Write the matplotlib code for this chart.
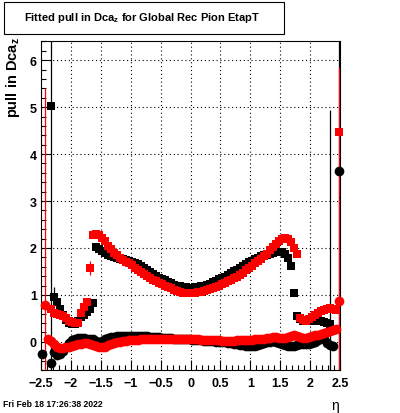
import numpy as np
import matplotlib.pyplot as plt
from matplotlib.patches import Rectangle
from matplotlib.ticker import MultipleLocator

plt.rcParams['font.family'] = ['Liberation Sans', 'DejaVu Sans']
plt.rcParams['mathtext.fontset'] = 'custom'
plt.rcParams['mathtext.bf'] = 'Liberation Sans:bold'
plt.rcParams['mathtext.rm'] = 'Liberation Sans'
plt.rcParams['mathtext.default'] = 'bf'

# 100 eta bins between -2.5 and 2.5
n_bins = 100
eta_lo, eta_hi = -2.5, 2.5

nan = np.nan

# black, fitted sigma (squares)
black_sigma = [
    nan, nan, nan, 5.02, 0.96, 0.85, 0.71, 0.57, 0.46, 0.40,
    0.37, 0.37, 0.45, 0.52, 0.58, 0.63, 0.70, 0.82, 2.02, 1.98,
    1.94, 1.90, 1.86, 1.82, 1.80, 1.78, 1.77, 1.76, 1.75, 1.73,
    1.71, 1.68, 1.65, 1.61, 1.57, 1.53, 1.49, 1.45, 1.41, 1.37,
    1.34, 1.31, 1.28, 1.25, 1.22, 1.20, 1.18, 1.17, 1.16, 1.15,
    1.15, 1.16, 1.17, 1.18, 1.20, 1.22, 1.24, 1.27, 1.30, 1.33,
    1.36, 1.39, 1.42, 1.46, 1.50, 1.54, 1.58, 1.62, 1.66, 1.70,
    1.73, 1.76, 1.79, 1.82, 1.84, 1.86, 1.88, 1.90, 1.91, 1.92,
    1.92, 1.88, 1.78, 1.62, 1.03, 0.55, 0.48, 0.45, 0.44, 0.44,
    0.45, 0.45, 0.46, 0.45, 0.43, 0.40, 0.38, nan, nan, nan,
]
# black, fitted mean (circles)
black_mean = [
    -0.25, nan, nan, -0.46, -0.22, -0.27, -0.26, -0.20, -0.10, -0.02,
    0.03, 0.06, 0.08, 0.09, 0.08, 0.06, 0.05, 0.06, 0.02, -0.02,
    0.02, 0.06, 0.09, 0.10, 0.11, 0.12, 0.12, 0.13, 0.13, 0.13,
    0.13, 0.13, 0.13, 0.13, 0.12, 0.12, 0.11, 0.11, 0.10, 0.10,
    0.09, 0.09, 0.08, 0.08, 0.07, 0.07, 0.06, 0.06, 0.05, 0.05,
    0.04, 0.04, 0.03, 0.03, 0.02, 0.02, 0.01, 0.01, 0.00, 0.00,
    -0.01, -0.01, -0.02, -0.03, -0.04, -0.05, -0.06, -0.07, -0.08, -0.09,
    -0.09, -0.08, -0.06, -0.04, -0.02, -0.01, 0.00, 0.01, 0.00, -0.02,
    -0.04, -0.06, -0.08, -0.09, -0.08, -0.06, -0.04, -0.04, -0.05, -0.04,
    -0.02, 0.00, 0.04, 0.08, 0.05, -0.02, -0.06, -0.08, nan, 3.64,
]
# red, fitted sigma (squares)
red_sigma = [
    nan, nan, nan, 0.70, 0.62, 0.60, 0.58, 0.55, 0.50, 0.45,
    0.43, 0.41, 0.40, 0.62, 0.75, 0.85, 1.57, 2.28, 2.30, 2.28,
    2.22, 2.14, 2.05, 1.97, 1.90, 1.84, 1.79, 1.75, 1.71, 1.67,
    1.63, 1.58, 1.53, 1.48, 1.44, 1.40, 1.36, 1.32, 1.29, 1.26,
    1.23, 1.20, 1.17, 1.14, 1.11, 1.09, 1.07, 1.05, 1.04, 1.04,
    1.04, 1.05, 1.06, 1.07, 1.08, 1.10, 1.12, 1.14, 1.17, 1.20,
    1.23, 1.26, 1.29, 1.32, 1.35, 1.39, 1.43, 1.47, 1.52, 1.57,
    1.62, 1.67, 1.72, 1.77, 1.82, 1.88, 1.95, 2.02, 2.08, 2.14,
    2.19, 2.22, 2.20, 2.12, 2.00, 1.88, 0.50, 0.47, 0.45, 0.48,
    0.52, 0.58, 0.62, 0.66, 0.68, 0.70, 0.72, 0.70, 0.68, 4.47,
]
# red, fitted mean (circles)
red_mean = [
    nan, 0.79, 0.07, 0.02, -0.05, -0.10, -0.13, -0.13, -0.12, -0.10,
    -0.08, -0.06, -0.05, -0.04, -0.03, -0.03, -0.04, -0.06, -0.09, -0.12,
    -0.12, -0.10, -0.07, -0.05, -0.03, -0.01, 0.00, 0.01, 0.02, 0.03,
    0.03, 0.04, 0.04, 0.05, 0.05, 0.05, 0.05, 0.06, 0.06, 0.06,
    0.06, 0.06, 0.06, 0.06, 0.05, 0.05, 0.05, 0.05, 0.05, 0.05,
    0.05, 0.05, 0.05, 0.04, 0.04, 0.04, 0.03, 0.03, 0.03, 0.03,
    0.02, 0.02, 0.02, 0.02, 0.02, 0.03, 0.03, 0.03, 0.04, 0.04,
    0.04, 0.05, 0.05, 0.06, 0.07, 0.08, 0.09, 0.10, 0.10, 0.09,
    0.08, 0.09, 0.11, 0.13, 0.14, 0.13, 0.10, 0.08, 0.09, 0.11,
    0.13, 0.14, 0.15, 0.17, 0.19, 0.21, 0.23, 0.26, 0.28, 0.86,
]

# the few error bars that stick out of the markers: {bin index: error}
black_sigma_err = {3: 6.0, 4: 0.2}
black_mean_err = {96: 5.0, 99: 10.0}
red_sigma_err = {16: 0.15, 99: 1.39}
red_mean_err = {1: 4.62, 99: 2.2}

x_ticks = [-2.5, -2, -1.5, -1, -0.5, 0, 0.5, 1, 1.5, 2, 2.5]
x_labels = ['\u22122.5', '\u22122', '\u22121.5', '\u22121', '\u22120.5', '0', '0.5', '1', '1.5', '2', '2.5']
y_ticks = [0, 1, 2, 3, 4, 5, 6]
y_labels = ['0', '1', '2', '3', '4', '5', '6']

title = r"Fitted pull in Dca$_z$ for Global Rec Pion EtapT"
date_text = "Fri Feb 18 17:26:38 2022"

# bin centers
edges = np.linspace(eta_lo, eta_hi, n_bins + 1)
eta = 0.5 * (edges[:-1] + edges[1:])

W, H = 400, 414
fig = plt.figure(figsize=(W / 100, H / 100), dpi=100)
ax = fig.add_axes([41 / W, 1 - 371 / H, 299 / W, (371 - 41.5) / H])


def draw(vals, errs, marker, color, ms):
    v = np.array(vals, dtype=float)
    e = np.zeros(len(v))
    for k, x in errs.items():
        e[k] = x
    cont = ax.errorbar(eta, v, yerr=e, fmt=marker, color=color, ms=ms, mew=0,
                       elinewidth=0.9, capsize=0, zorder=3)
    cont[0].set_clip_on(False)


draw(black_sigma, black_sigma_err, 's', 'black', 6.3)
draw(black_mean, black_mean_err, 'o', 'black', 7.0)
draw(red_sigma, red_sigma_err, 's', 'red', 6.3)
draw(red_mean, red_mean_err, 'o', 'red', 7.0)

ax.set_xlim(eta_lo, eta_hi)
ax.set_ylim(-0.6, 6.42)

ax.set_xticks(x_ticks)
ax.set_xticklabels(x_labels, fontsize=9, fontweight='bold')
ax.set_yticks(y_ticks)
ax.set_yticklabels(y_labels, fontsize=9, fontweight='bold')
ax.xaxis.set_minor_locator(MultipleLocator(0.1))
ax.yaxis.set_minor_locator(MultipleLocator(0.2))
ax.tick_params(which='both', direction='in', top=False, right=False, width=0.8)
ax.tick_params(which='major', length=7)
ax.tick_params(which='minor', length=3.5)
ax.tick_params(axis='x', pad=5)
ax.tick_params(axis='y', pad=3)

ax.grid(True, which='major', color='black', linestyle=(0, (1, 2.5)), linewidth=0.8)
ax.set_axisbelow(True)
for s in ax.spines.values():
    s.set_linewidth(0.8)

# title box
fig.add_artist(Rectangle((4 / W, 1 - 35 / H), 280 / W, 32 / H, transform=fig.transFigure,
                         fill=False, edgecolor='black', linewidth=0.8))
fig.text(142 / W, 1 - 18 / H, title, ha='center', va='center', fontsize=8, fontweight='bold')

# axis titles
fig.text(13 / W, 1 - 37 / H, r"pull in Dca$_z$", rotation=90, ha='center', va='top',
         fontsize=10.5, fontweight='bold')
fig.text(335 / W, 1 - 406 / H, "\u03b7", ha='center', va='center', fontsize=10)

fig.text(3 / W, 1 - 405 / H, date_text, ha='left', va='center', fontsize=6.2, fontweight='bold')

fig.savefig('out.png', dpi=100)
